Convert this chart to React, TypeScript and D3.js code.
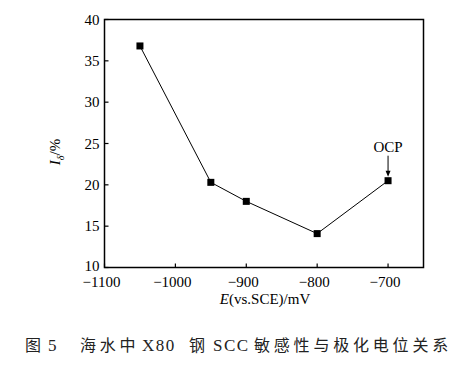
import React from "react";
import * as d3 from "d3";

// polarisation potential (mV vs SCE) and SCC susceptibility I_delta (%)
const potentials = [-1050, -950, -900, -800, -700];
const sensitivity = [36.8, 20.3, 18.0, 14.1, 20.5];
const xTicks = [-1100, -1000, -900, -800, -700];
const yTicks = [10, 15, 20, 25, 30, 35, 40];

// caption pieces, each placed at its own x
const caption = [
  { text: "图", x: 25, latin: false },
  { text: "5", x: 48, latin: true },
  { text: "海水中", x: 80, latin: false },
  { text: "X80", x: 142, latin: true },
  { text: "钢", x: 189, latin: false },
  { text: "SCC", x: 213, latin: true },
  { text: "敏感性与极化电位关系", x: 254, latin: false },
];

const W = 471;
const H = 367;
const margin = { left: 104.5, right: 47.5, top: 19.5, bottom: 99.5 };

export default function App() {
  const x = d3
    .scaleLinear()
    .domain([-1100, -650])
    .range([margin.left, W - margin.right]);
  const y = d3
    .scaleLinear()
    .domain([10, 40])
    .range([H - margin.bottom, margin.top]);

  const line = d3
    .line<number>()
    .x((d, i) => x(potentials[i]))
    .y((d) => y(d));

  const font = "'Liberation Serif', 'DejaVu Serif', serif";
  const minus = (v: number) => (v < 0 ? "\u2212" + Math.abs(v) : String(v));
  const ocpX = x(potentials[4]);
  const ocpY = y(sensitivity[4]);

  return (
    <svg
      width={W}
      height={H}
      style={{ position: "absolute", left: 0, top: 0, background: "#fff" }}
      fontFamily={font}
    >
      {/* frame */}
      <rect
        x={margin.left}
        y={margin.top}
        width={W - margin.right - margin.left}
        height={H - margin.bottom - margin.top}
        fill="none"
        stroke="#000"
        strokeWidth={1.5}
      />

      {/* y ticks, pointing inward */}
      {yTicks.map((t) => (
        <g key={t}>
          <line
            x1={margin.left}
            x2={margin.left + 4}
            y1={y(t)}
            y2={y(t)}
            stroke="#000"
            strokeWidth={1.2}
          />
          <text
            x={margin.left - 5}
            y={y(t) - (t === 10 ? 2 : 0)}
            dy="0.35em"
            textAnchor="end"
            fontSize={15}
          >
            {t}
          </text>
        </g>
      ))}

      {/* x ticks */}
      {xTicks.map((t) => (
        <g key={t}>
          <line
            x1={x(t)}
            x2={x(t)}
            y1={H - margin.bottom}
            y2={H - margin.bottom - 4}
            stroke="#000"
            strokeWidth={1.2}
          />
          <text
            x={x(t) - 3}
            y={H - margin.bottom + 19}
            textAnchor="middle"
            fontSize={15}
          >
            {minus(t)}
          </text>
        </g>
      ))}

      {/* data line and markers */}
      <path d={line(sensitivity) || ""} fill="none" stroke="#000" strokeWidth={1} />
      {sensitivity.map((v, i) => (
        <rect
          key={i}
          x={x(potentials[i]) - 3.5}
          y={y(v) - 3.5}
          width={7}
          height={7}
          fill="#000"
        />
      ))}

      {/* OCP annotation */}
      <text x={ocpX} y={ocpY - 29} textAnchor="middle" fontSize={15}>
        OCP
      </text>
      <line x1={ocpX} x2={ocpX} y1={ocpY - 25} y2={ocpY - 8} stroke="#000" strokeWidth={1} />
      <path
        d={`M${ocpX - 2.5},${ocpY - 10} L${ocpX + 2.5},${ocpY - 10} L${ocpX},${ocpY - 4} Z`}
        fill="#000"
      />

      {/* axis titles */}
      <text x={265} y={304} textAnchor="middle" fontSize={15}>
        <tspan fontStyle="italic">E</tspan>(vs.SCE)/mV
      </text>
      <text
        transform={`translate(60,152) rotate(-90)`}
        textAnchor="middle"
        fontSize={15}
      >
        <tspan fontStyle="italic">I</tspan>
        <tspan fontStyle="italic" fontSize={10} dy={4}>
          δ
        </tspan>
        <tspan dy={-4}>/%</tspan>
      </text>

      {/* caption */}
      <text
        y={351}
        fontFamily="'Liberation Serif', 'Noto Sans CJK SC', serif"
        fill="#222"
      >
        {caption.map((c) => (
          <tspan
            key={c.text}
            x={c.x}
            fontSize={c.latin ? 17 : 16}
            letterSpacing={c.latin ? 1.5 : 3.8}
          >
            {c.text}
          </tspan>
        ))}
      </text>
    </svg>
  );
}
